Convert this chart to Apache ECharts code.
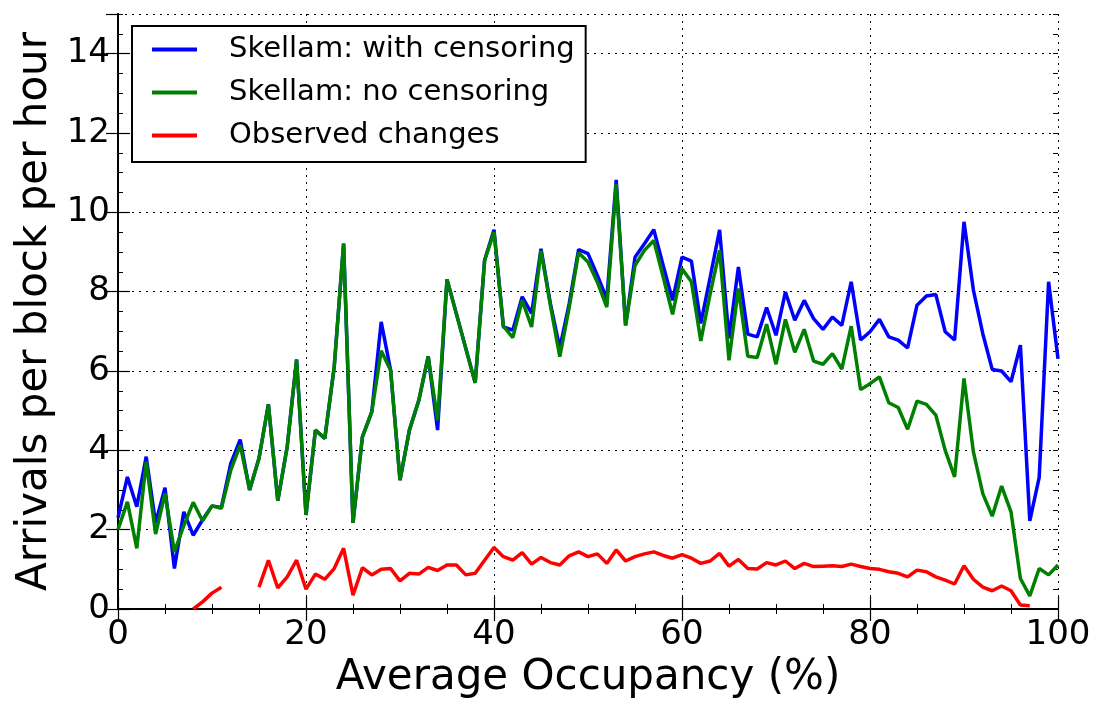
<!DOCTYPE html>
<html>
<head>
<meta charset="utf-8">
<script src="https://cdn.jsdelivr.net/npm/echarts@6/dist/echarts.min.js"></script>
<style>
  html, body { margin: 0; padding: 0; background: #fff; }
  #chart { width: 1100px; height: 708px; }
</style>
</head>
<body>
<div id="chart"></div>
<script>
// occupancy (%) for each sample
const occupancy = [
  0, 1, 2, 3, 4, 5, 6, 7, 8, 9, 10, 11, 12, 13, 14, 15, 16, 17, 18, 19,
  20, 21, 22, 23, 24, 25, 26, 27, 28, 29, 30, 31, 32, 33, 34, 35, 36, 37, 38, 39,
  40, 41, 42, 43, 44, 45, 46, 47, 48, 49, 50, 51, 52, 53, 54, 55, 56, 57, 58, 59,
  60, 61, 62, 63, 64, 65, 66, 67, 68, 69, 70, 71, 72, 73, 74, 75, 76, 77, 78, 79,
  80, 81, 82, 83, 84, 85, 86, 87, 88, 89, 90, 91, 92, 93, 94, 95, 96, 97, 98, 99, 100
]

const withCensoring = [
  2.3, 3.33, 2.58, 3.84, 2.17, 3.06, 1.02, 2.45, 1.86, 2.25,
  2.60, 2.56, 3.67, 4.27, 3.0, 3.80, 5.16, 2.73, 4.09, 6.29,
  2.37, 4.51, 4.30, 6.10, 9.21, 2.17, 4.34, 4.97, 7.24, 6.02,
  3.25, 4.51, 5.26, 6.37, 4.51, 8.31, 7.44, 6.57, 5.70, 8.79,
  9.56, 7.11, 7.03, 7.87, 7.45, 9.08, 7.7, 6.58, 7.7, 9.06,
  8.96, 8.41, 7.82, 10.82, 7.15, 8.87, 9.21, 9.56, 8.66, 7.78,
  8.87, 8.77, 7.20, 8.37, 9.56, 6.82, 8.62, 6.93, 6.86, 7.60,
  6.90, 7.99, 7.28, 7.78, 7.32, 7.05, 7.36, 7.15, 8.25, 6.78,
  6.99, 7.30, 6.86, 6.78, 6.58, 7.66, 7.89, 7.93, 6.99, 6.78,
  9.76, 8.04, 6.94, 6.04, 6.00, 5.73, 6.65, 2.22, 3.32, 8.25, 6.31
]

const noCensoring = [
  2.0, 2.70, 1.53, 3.71, 1.89, 2.91, 1.44, 2.10, 2.69, 2.22,
  2.60, 2.54, 3.50, 4.13, 3.0, 3.80, 5.16, 2.73, 4.09, 6.29,
  2.37, 4.51, 4.30, 6.10, 9.21, 2.17, 4.34, 4.97, 6.51, 6.02,
  3.25, 4.51, 5.26, 6.37, 4.76, 8.31, 7.44, 6.57, 5.70, 8.79,
  9.50, 7.13, 6.84, 7.78, 7.11, 9.03, 7.65, 6.36, 7.6, 8.98,
  8.75, 8.24, 7.61, 10.72, 7.15, 8.66, 9.04, 9.29, 8.37, 7.43,
  8.58, 8.25, 6.76, 7.95, 9.04, 6.27, 8.08, 6.37, 6.34, 7.18,
  6.17, 7.30, 6.47, 7.05, 6.25, 6.17, 6.44, 6.05, 7.13, 5.53,
  5.68, 5.85, 5.20, 5.08, 4.53, 5.24, 5.16, 4.89, 4.00, 3.33,
  5.81, 3.96, 2.91, 2.34, 3.10, 2.45, 0.77, 0.33, 1.02, 0.86, 1.11
]

const observed = [
  null, null, null, null, null, null, null, null, 0.0, 0.18,
  0.40, 0.55, null, null, null, 0.55, 1.23, 0.53, 0.81, 1.23,
  0.50, 0.88, 0.75, 1.02, 1.53, 0.35, 1.04, 0.86, 1.00, 1.02,
  0.71, 0.90, 0.88, 1.05, 0.97, 1.11, 1.11, 0.86, 0.90, 1.23,
  1.55, 1.32, 1.23, 1.42, 1.13, 1.30, 1.17, 1.11, 1.34, 1.44,
  1.32, 1.39, 1.15, 1.49, 1.21, 1.32, 1.39, 1.44, 1.35, 1.28,
  1.37, 1.28, 1.15, 1.21, 1.40, 1.08, 1.25, 1.02, 1.01, 1.17,
  1.11, 1.21, 1.02, 1.15, 1.07, 1.08, 1.09, 1.07, 1.13, 1.07,
  1.02, 1.00, 0.94, 0.90, 0.81, 0.98, 0.94, 0.81, 0.73, 0.63,
  1.09, 0.75, 0.55, 0.46, 0.58, 0.46, 0.10, 0.08, null, null, null
]

const seriesNames = ['Skellam: with censoring', 'Skellam: no censoring', 'Observed changes']

const FONT = 'DejaVu Sans'

function pairs(values) {
  return occupancy.map((x, i) => [x, values[i]])
}

const chart = echarts.init(document.getElementById('chart'))

const axisLine = { show: true, lineStyle: { color: '#000', width: 2 } }
const majorTick = { show: true, inside: true, length: 12, lineStyle: { color: '#000', width: 1.2 } }

// x minor ticks fit evenly in every 20-unit interval
const xTicks = {
  axisLine,
  axisTick: majorTick,
  minorTick: { show: true, splitNumber: 4, length: 5, lineStyle: { color: '#000', width: 1 } }
}

// y minor ticks drawn by a separate axis every 0.5 so the 14-15 strip is right
function yMinorAxis(position) {
  return {
    type: 'value',
    position,
    min: 0,
    max: 15,
    interval: 0.5,
    axisLine: { show: false },
    axisLabel: { show: false },
    splitLine: { show: false },
    axisTick: { show: true, inside: true, length: 5, lineStyle: { color: '#000', width: 1 } }
  }
}

const option = {
  animation: false,
  backgroundColor: '#fff',
  grid: { left: 118, right: 42, top: 14, bottom: 99, containLabel: false },
  legend: {
    orient: 'vertical',
    left: 132,
    top: 26,
    padding: [9, 11, 12, 20],
    itemGap: 14,
    itemWidth: 45,
    itemHeight: 4,
    icon: 'rect',
    backgroundColor: '#fff',
    borderColor: '#000',
    borderWidth: 2,
    borderRadius: 0,
    data: seriesNames,
    textStyle: { fontFamily: FONT, fontSize: 29, color: '#000', padding: [0, 0, 0, 27] }
  },
  xAxis: [
    {
      type: 'value',
      min: 0,
      max: 100,
      interval: 20,
      name: 'Average Occupancy (%)',
      nameLocation: 'middle',
      nameGap: 48,
      nameTextStyle: { fontFamily: FONT, fontSize: 42, color: '#000' },
      axisLabel: { margin: 9, fontFamily: FONT, fontSize: 34, color: '#000' },
      splitLine: { show: true, lineStyle: { color: '#000', width: 1, type: [2, 5] } },
      ...xTicks
    },
    {
      type: 'value',
      position: 'top',
      min: 0,
      max: 100,
      interval: 20,
      axisLabel: { show: false },
      splitLine: { show: false },
      ...xTicks
    }
  ],
  yAxis: [
    {
      type: 'value',
      min: 0,
      max: 15,
      interval: 2,
      name: 'Arrivals per block per hour',
      nameLocation: 'middle',
      nameGap: 62,
      nameTextStyle: { fontFamily: FONT, fontSize: 42, color: '#000' },
      axisLabel: { margin: 8, fontFamily: FONT, fontSize: 34, color: '#000', showMaxLabel: false },
      splitLine: { show: true, lineStyle: { color: '#000', width: 1, type: [2, 5] } },
      axisLine,
      axisTick: majorTick
    },
    {
      type: 'value',
      position: 'right',
      min: 0,
      max: 15,
      interval: 2,
      axisLabel: { show: false },
      splitLine: { show: false },
      axisLine,
      axisTick: majorTick
    },
    yMinorAxis('left'),
    yMinorAxis('right')
  ],
  series: [
    {
      name: seriesNames[0],
      type: 'line',
      data: pairs(withCensoring),
      symbol: 'none',
      color: '#0000ff',
      lineStyle: { width: 3.5, color: '#0000ff' }
    },
    {
      name: seriesNames[1],
      type: 'line',
      data: pairs(noCensoring),
      symbol: 'none',
      color: '#008000',
      lineStyle: { width: 3.5, color: '#008000' }
    },
    {
      name: seriesNames[2],
      type: 'line',
      data: pairs(observed),
      symbol: 'none',
      connectNulls: false,
      color: '#ff0000',
      lineStyle: { width: 3.5, color: '#ff0000' }
    }
  ]
}

chart.setOption(option)
</script>
</body>
</html>
